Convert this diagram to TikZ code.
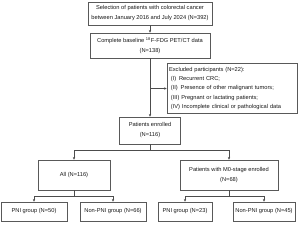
\documentclass[tikz,border=0pt]{standalone}
\usepackage{fontspec}
\setmainfont{Liberation Sans}
\usetikzlibrary{arrows.meta}
\begin{document}
\begin{tikzpicture}[x=1pt,y=-1pt,
  box/.style={draw=black!65, line width=0.5pt, align=center,
    font=\fontsize{5.7}{10}\selectfont, text=black!90, inner sep=0pt},
  conn/.style={draw=black!70, line width=0.5pt},
  arr/.style={conn, -{Stealth[length=2.8pt,width=2.4pt]}}]
\useasboundingbox (0,0) rectangle (300,225);
\fill[white] (0,0) rectangle (300,225);
\node[box, minimum width=124pt, minimum height=23pt] (sel) at (150,13.5)
  {Selection of patients with colorectal cancer\\between January 2016 and July 2024 (N=392)};
\node[box, minimum width=120pt, minimum height=25pt] (base) at (150,45.5)
  {Complete baseline \textsuperscript{18}F-FDG PET/CT data\\(N=138)};
\node[box, minimum width=130pt, minimum height=50pt, text width=126pt, align=left,
  font=\fontsize{5.7}{9.4}\selectfont] (excl) at (232,88.5)
  {Excluded participants (N=22):\\
   \ (I)\enspace Recurrent CRC;\\
   \ (II)\enspace Presence of other malignant tumors;\\
   \ (III) Pregnant or lactating patients;\\
   \ (IV) Incomplete clinical or pathological data};
\node[box, minimum width=61pt, minimum height=27pt] (enr) at (150,130.5)
  {Patients enrolled\\(N=116)};
\node[box, minimum width=72pt, minimum height=30pt] (all) at (74,175)
  {All (N=116)};
\node[box, minimum width=98pt, minimum height=30pt] (m0) at (229,175)
  {Patients with M0-stage enrolled\\(N=68)};
\node[box, minimum width=66pt, minimum height=19pt] (pni1) at (34,211.5) {PNI group (N=50)};
\node[box, minimum width=66pt, minimum height=19pt] (npni1) at (113,211.5) {Non-PNI group (N=66)};
\node[box, minimum width=54pt, minimum height=19pt] (pni2) at (185,211.5) {PNI group (N=23)};
\node[box, minimum width=62pt, minimum height=19pt] (npni2) at (264,211.5) {Non-PNI group (N=45)};
\coordinate (j1) at (base.south |- excl.west);
\draw[arr] (sel) -- (base);
\draw[arr] (base.south) -- (base.south |- enr.north);
\draw[arr] (j1) -- (excl.west);
\draw[arr] (enr.south) -- ++(0,6) -| (all.north);
\draw[arr] (enr.south) -- ++(0,6) -| (m0.north);
\draw[arr] (all.south) -- ++(0,6) -| (pni1.north);
\draw[arr] (all.south) -- ++(0,6) -| (npni1.north);
\draw[arr] (m0.south) -- ++(0,6) -| (pni2.north);
\draw[arr] (m0.south) -- ++(0,6) -| (npni2.north);
\end{tikzpicture}
\end{document}
